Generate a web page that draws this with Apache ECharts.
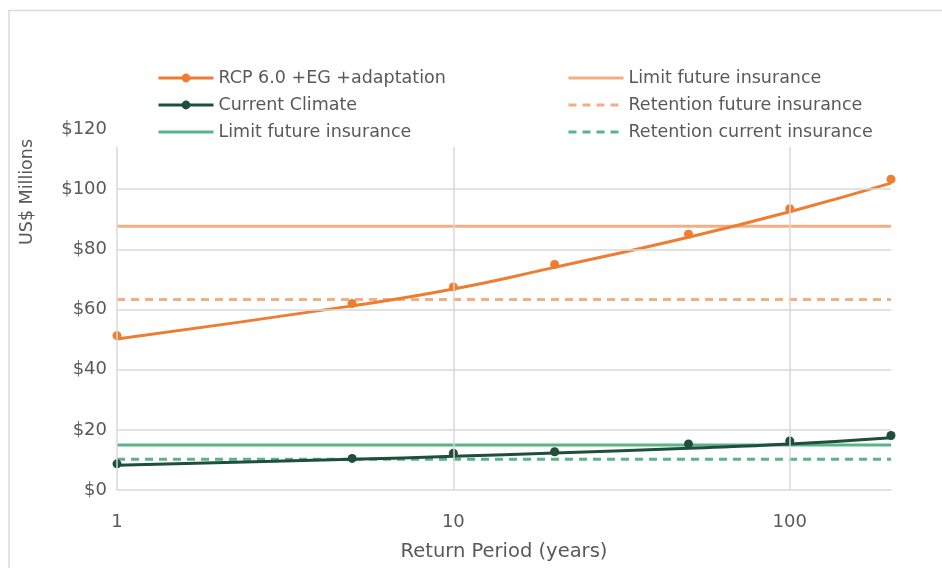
<!DOCTYPE html>
<html>
<head>
<meta charset="utf-8">
<script src="https://cdn.jsdelivr.net/npm/echarts@6/dist/echarts.min.js"></script>
<style>
html,body{margin:0;padding:0;background:#fff;}
#chart{width:942px;height:568px;}
</style>
</head>
<body>
<div id="chart"></div>
<script>
// ---- data ----
const returnPeriods = [1, 5, 10, 20, 50, 100, 200];
const rcpPoints = [51.3, 62.0, 67.5, 75.0, 85.0, 93.5, 103.3];
const rcpTrend = [50.2, 61.2, 66.8, 74.0, 84.0, 92.5, 102.0];
const currentPoints = [8.7, 10.5, 12.2, 12.7, 15.3, 16.3, 18.1];
const currentTrend = [8.2, 10.2, 11.2, 12.3, 13.9, 15.3, 17.4];
const limitFuture = 87.7;
const retentionFuture = 63.3;
const limitCurrent = 15.0;
const retentionCurrent = 10.2;
const xRange = [1, 200];
const xTickLabels = [1, 10, 100];
const yTicks = [0, 20, 40, 60, 80, 100, 120];
const yGridValues = [20, 40, 60, 80, 100];
const xGridValues = [10, 100];
const plotTopValue = 114;

const NAME_RCP = 'RCP 6.0 +EG +adaptation';
const NAME_CUR = 'Current Climate';
const NAME_LIM_CUR = 'Limit future insurance';
const NAME_LIM_FUT = 'Limit future insurance\u00a0';
const NAME_RET_FUT = 'Retention future insurance';
const NAME_RET_CUR = 'Retention current insurance';

const C_ORANGE = '#ED7D31';
const C_ORANGE_LIGHT = '#F4AE84';
const C_DARK = '#1F4E3D';
const C_GREEN = '#5BB38A';
const GRID_C = '#D9D9D9';
const TXT = '#595959';
const FONT = 'DejaVu Sans';

const pairs = (xs, ys) => xs.map((x, i) => [x, ys[i]]);
const flat = v => xRange.map(x => [x, v]);

const chart = echarts.init(document.getElementById('chart'), null, {renderer: 'canvas'});

const gridMarks = [];
yGridValues.forEach(v => gridMarks.push([{coord: [xRange[0], v]}, {coord: [xRange[1], v]}]));
xGridValues.forEach(v => gridMarks.push([{coord: [v, 0]}, {coord: [v, plotTopValue]}]));
gridMarks.push([{coord: [xRange[0], 0]}, {coord: [xRange[0], plotTopValue]}]);

const legendCommon = {
  orient: 'vertical', top: 64,
  itemWidth: 55, itemHeight: 11, itemGap: 9,
  textStyle: {color: TXT, fontSize: 17.5, fontFamily: FONT, padding: [0, 0, 0, 0]}
};
const noSym = {opacity: 0};
const legLine = c => ({opacity: 1, width: 3, color: c});
const legDash = c => ({opacity: 1, width: 3, color: c, type: [8, 6]});

const option = {
  backgroundColor: '#fff',
  animation: false,
  textStyle: {fontFamily: FONT},
  graphic: [
    {type: 'rect', shape: {x: 9, y: 10.5, width: 1200, height: 1200}, style: {fill: 'none', stroke: GRID_C, lineWidth: 1.5}, silent: true},
    {type: 'text', x: 27, y: 192, rotation: Math.PI / 2,
     style: {text: 'US$ Millions', fill: TXT, font: '17.5px "' + FONT + '"', align: 'center', verticalAlign: 'middle'}}
  ],
  legend: [
    Object.assign({}, legendCommon, {
      left: 152,
      data: [
        {name: NAME_RCP, lineStyle: legLine(C_ORANGE)},
        {name: NAME_CUR, lineStyle: legLine(C_DARK)},
        {name: NAME_LIM_CUR, itemStyle: noSym, lineStyle: legLine(C_GREEN)}
      ]
    }),
    Object.assign({}, legendCommon, {
      left: 562,
      data: [
        {name: NAME_LIM_FUT, itemStyle: noSym, lineStyle: legLine(C_ORANGE_LIGHT)},
        {name: NAME_RET_FUT, itemStyle: noSym, lineStyle: legDash(C_ORANGE_LIGHT)},
        {name: NAME_RET_CUR, itemStyle: noSym, lineStyle: legDash(C_GREEN)}
      ]
    })
  ],
  grid: {left: 117, right: 51, top: 129, bottom: 78, containLabel: false, outerBoundsMode: 'none'},
  xAxis: {
    type: 'log', logBase: 10, min: xRange[0], max: xRange[1],
    name: 'Return Period (years)', nameLocation: 'middle', nameGap: 52, nameMoveOverlap: false,
    nameTextStyle: {color: TXT, fontSize: 19.5, fontFamily: FONT},
    axisLine: {show: true, lineStyle: {color: GRID_C, width: 1.5}},
    axisTick: {show: false},
    splitLine: {show: false},
    axisLabel: {
      color: TXT, fontSize: 18, fontFamily: FONT, margin: 23,
      formatter: v => (xTickLabels.indexOf(Math.round(v)) >= 0 && Math.abs(v - Math.round(v)) < 1e-6) ? String(Math.round(v)) : ''
    }
  },
  yAxis: {
    type: 'value', min: yTicks[0], max: yTicks[yTicks.length - 1], interval: 20,
    axisLine: {show: false}, axisTick: {show: false}, splitLine: {show: false},
    axisLabel: {color: TXT, fontSize: 18, fontFamily: FONT, margin: 10, formatter: v => '$' + v}
  },
  series: [
    {
      name: '_grid', type: 'line', data: [], silent: true,
      markLine: {silent: true, symbol: 'none', label: {show: false},
        lineStyle: {color: GRID_C, width: 1.5, type: 'solid'}, data: gridMarks}
    },
    {name: NAME_LIM_FUT, type: 'line', data: flat(limitFuture), symbol: 'none',
     color: C_ORANGE_LIGHT, lineStyle: {color: C_ORANGE_LIGHT, width: 3}},
    {name: NAME_RET_FUT, type: 'line', data: flat(retentionFuture), symbol: 'none',
     color: C_ORANGE_LIGHT, lineStyle: {color: C_ORANGE_LIGHT, width: 3, type: [8, 6]}},
    {name: NAME_LIM_CUR, type: 'line', data: flat(limitCurrent), symbol: 'none',
     color: C_GREEN, lineStyle: {color: C_GREEN, width: 3}},
    {name: NAME_RET_CUR, type: 'line', data: flat(retentionCurrent), symbol: 'none',
     color: C_GREEN, lineStyle: {color: C_GREEN, width: 3, type: [8, 6]}},
    {name: 'rcpTrend', type: 'line', data: pairs(returnPeriods, rcpTrend), symbol: 'none', smooth: true,
     color: C_ORANGE, lineStyle: {color: C_ORANGE, width: 3}},
    {name: 'curTrend', type: 'line', data: pairs(returnPeriods, currentTrend), symbol: 'none', smooth: true,
     color: C_DARK, lineStyle: {color: C_DARK, width: 3}},
    {name: NAME_RCP, type: 'line', data: pairs(returnPeriods, rcpPoints), symbol: 'circle', symbolSize: 9, showSymbol: true,
     color: C_ORANGE, itemStyle: {color: C_ORANGE}, lineStyle: {opacity: 0}},
    {name: NAME_CUR, type: 'line', data: pairs(returnPeriods, currentPoints), symbol: 'circle', symbolSize: 9, showSymbol: true,
     color: C_DARK, itemStyle: {color: C_DARK}, lineStyle: {opacity: 0}}
  ]
};
chart.setOption(option);
</script>
</body>
</html>
